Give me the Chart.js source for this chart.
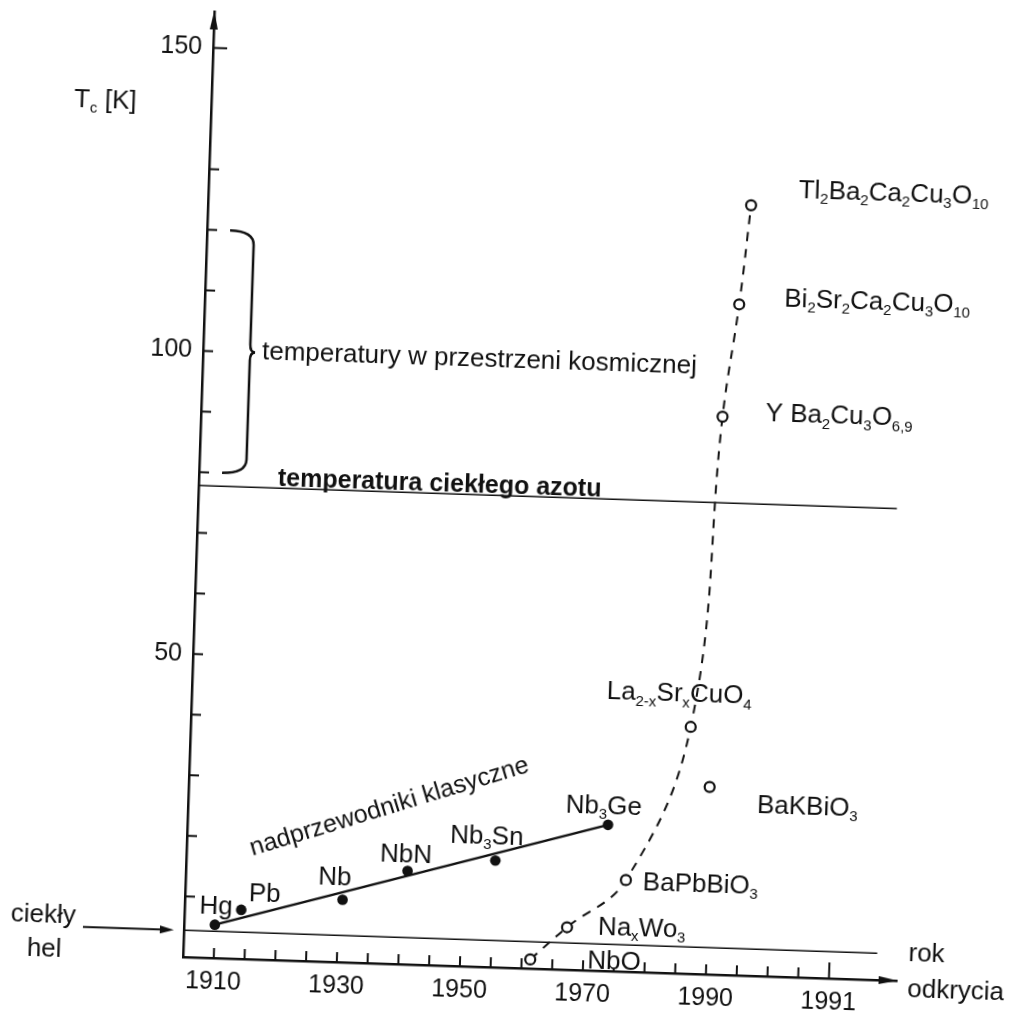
<!DOCTYPE html>
<html>
<head>
<meta charset="utf-8">
<script src="https://cdn.jsdelivr.net/npm/chart.js@4"></script>
<style>
  html, body { margin: 0; padding: 0; background: #fff; overflow: hidden; }
  #wrap { width: 1015px; height: 1012px; overflow: hidden; }
  /* the scanned original is turned a little clockwise about the axis origin */
  #myChart { display: block; transform-origin: 183px 957px; transform: rotate(1.9deg); }
</style>
</head>
<body>
<div id="wrap"><canvas id="myChart" width="1015" height="1012"></canvas></div>
<script>
// classical superconductors (filled dots)
const classicNames = ['Hg', 'Pb', 'Nb', 'NbN', 'Nb{3}Sn', 'Nb{3}Ge'];
const classicYears = [1910, 1914.2, 1930.6, 1941, 1955.2, 1973.3];
const classicTc = [5.5, 8.1, 10.3, 15.4, 17.6, 24.1];

// oxide superconductors (open circles)
const oxideNames = ['NbO', 'Na{x}Wo{3}', 'BaPbBiO{3}', 'La{2-x}Sr{x}CuO{4}', 'BaKBiO{3}',
  'Y Ba{2}Cu{3}O{6,9}', 'Bi{2}Sr{2}Ca{2}Cu{3}O{10}', 'Tl{2}Ba{2}Ca{2}Cu{3}O{10}'];
const oxideYears = [1961.4, 1967.2, 1976.5, 1986.2, 1989.6, 1989.7, 1991.8, 1993.2];
const oxideTc = [1.5, 7.0, 15.1, 40.7, 30.9, 92.0, 110.6, 127.0];
// dashed curve runs through all oxides except BaKBiO3
const curveIndex = [0, 1, 2, 3, 5, 6, 7];

// reference temperatures
const heliumT = 4.4;
const heliumYears = [1905, 2017.7];
const nitrogenT = 77.8;
const nitrogenYears = [1905, 2018.5];
const spaceRange = [80, 120];

// ticks
const xTickYears = [1910, 1915, 1920, 1925, 1930, 1935, 1940, 1945, 1950, 1955, 1960,
  1965, 1970, 1975, 1980, 1985, 1990, 1995, 2000, 2005, 2010];
const xLabelYears = [1910, 1930, 1950, 1970, 1990, 2010];
const xLabelTexts = ['1910', '1930', '1950', '1970', '1990', '1991'];
const yTickValues = [10, 20, 30, 40, 50, 60, 70, 80, 90, 100, 110, 120, 130, 150];
const yLabelValues = [50, 100, 150];

const FONT = '"Liberation Sans", Arial, sans-serif';
const INK = '#111';

// label placement relative to each point, in pixels
const classicLabelOffsets = [[-16, -20], [7, -18], [-25, -24], [-28, -18], [-46, -26], [-43, -20]];
const oxideLabelOffsets = [[57, -2], [31, -3], [17, 0], [-85, -34], [48, 15], [43, -6], [45, -9], [47, -18]];
// labels printed on a white patch (they sit over the year ticks)
const maskedLabels = ['NbO'];

const pts = (xs, ys) => xs.map((x, i) => ({ x, y: ys[i] }));

const richParts = (str) => {
  const parts = [];
  const re = /\{([^}]*)\}|([^{]+)/g;
  let m;
  while ((m = re.exec(str))) parts.push(m[1] !== undefined ? { t: m[1], sub: true } : { t: m[2], sub: false });
  return parts;
};

// draws text with {subscripts}; y is the middle of the capitals
const drawRich = (ctx, str, x, y, size, weight, align, mask) => {
  const parts = richParts(str);
  const subSize = Math.round(size * 0.58);
  const fontOf = (p) => (weight || 'normal') + ' ' + (p.sub ? subSize : size) + 'px ' + FONT;
  let w = 0;
  parts.forEach((p) => { ctx.font = fontOf(p); w += ctx.measureText(p.t).width; });
  let cx = align === 'center' ? x - w / 2 : x;
  if (mask) {
    ctx.save();
    ctx.fillStyle = '#fff';
    ctx.fillRect(cx - 1, y - size * 0.45, w + 2, mask);
    ctx.restore();
  }
  const base = y + size * 0.358;
  ctx.textAlign = 'left';
  ctx.textBaseline = 'alphabetic';
  parts.forEach((p) => {
    ctx.font = fontOf(p);
    ctx.fillText(p.t, cx, p.sub ? base + size * 0.2 : base);
    cx += ctx.measureText(p.t).width;
  });
};

const line = (ctx, x1, y1, x2, y2) => {
  ctx.beginPath(); ctx.moveTo(x1, y1); ctx.lineTo(x2, y2); ctx.stroke();
};
const tri = (ctx, a, b, c) => {
  ctx.beginPath(); ctx.moveTo(a[0], a[1]); ctx.lineTo(b[0], b[1]); ctx.lineTo(c[0], c[1]); ctx.closePath(); ctx.fill();
};

const drawings = {
  id: 'drawings',
  afterDraw(chart) {
    const { ctx, chartArea: a, scales: { x: xs, y: ys } } = chart;
    const L = a.left, R = a.right, B = a.bottom, T = a.top;
    ctx.save();
    ctx.strokeStyle = INK;
    ctx.fillStyle = INK;

    // inner tick marks
    ctx.lineWidth = 2;
    xTickYears.forEach((v, i) => {
      const px = xs.getPixelForValue(v);
      line(ctx, px, B, px, B - (i === xTickYears.length - 1 ? 16 : 10));
    });
    yTickValues.forEach((v) => {
      const py = ys.getPixelForValue(v);
      line(ctx, L, py, L + (v === 150 ? 14 : 10), py);
    });

    // axis arrows
    tri(ctx, [L, T - 1], [L - 4, T + 18], [L + 4, T + 18]);
    tri(ctx, [R + 1, B], [R - 18, B - 4], [R - 18, B + 4]);

    // liquid helium pointer
    const hy = ys.getPixelForValue(heliumT);
    ctx.lineWidth = 2;
    line(ctx, L - 101, hy, L - 20, hy);
    tri(ctx, [L - 10, hy], [L - 24, hy - 4], [L - 24, hy + 4]);
    drawRich(ctx, 'ciekły', L - 141, hy - 13, 26, 'normal', 'center');
    drawRich(ctx, 'hel', L - 139, hy + 21, 26, 'normal', 'center');

    // axis titles
    drawRich(ctx, 'T{c} [K]', L - 106, ys.getPixelForValue(141), 26, 'normal', 'center');
    drawRich(ctx, 'rok', R + 11, B - 29, 26);
    drawRich(ctx, 'odkrycia', R + 11, B + 7, 26);

    // brace for temperatures in space
    const yTop = ys.getPixelForValue(spaceRange[1]);
    const yBot = ys.getPixelForValue(spaceRange[0]);
    const yMid = (yTop + yBot) / 2;
    const xEnd = L + 23, xSp = L + 47, xTip = L + 52;
    ctx.lineWidth = 2.5;
    ctx.beginPath();
    ctx.moveTo(xEnd, yTop);
    ctx.quadraticCurveTo(xSp, yTop, xSp, yTop + 14);
    ctx.lineTo(xSp, yMid - 8);
    ctx.quadraticCurveTo(xSp, yMid, xTip, yMid);
    ctx.quadraticCurveTo(xSp, yMid, xSp, yMid + 8);
    ctx.lineTo(xSp, yBot - 14);
    ctx.quadraticCurveTo(xSp, yBot, xEnd, yBot);
    ctx.stroke();
    drawRich(ctx, 'temperatury w przestrzeni kosmicznej', xTip + 7, yMid - 3, 26);

    // liquid nitrogen caption
    drawRich(ctx, 'temperatura ciekłego azotu', L + 79, ys.getPixelForValue(nitrogenT) - 11, 25, 'bold');

    // point labels
    classicNames.forEach((n, i) => {
      const o = classicLabelOffsets[i];
      drawRich(ctx, n, xs.getPixelForValue(classicYears[i]) + o[0], ys.getPixelForValue(classicTc[i]) + o[1], 26);
    });
    oxideNames.forEach((n, i) => {
      const o = oxideLabelOffsets[i];
      const y = ys.getPixelForValue(oxideTc[i]) + o[1];
      const mask = maskedLabels.includes(n) ? B - 2 - (y - 26 * 0.45) : 0;
      drawRich(ctx, n, xs.getPixelForValue(oxideYears[i]) + o[0], y, 26, 'normal', 'left', mask);
    });

    // caption along the classical trend line
    const last = classicYears.length - 1;
    const mx = (xs.getPixelForValue(classicYears[0]) + xs.getPixelForValue(classicYears[last])) / 2;
    const my = (ys.getPixelForValue(classicTc[0]) + ys.getPixelForValue(classicTc[last])) / 2;
    ctx.save();
    ctx.translate(mx - 25, my - 69);
    ctx.rotate(-18.8 * Math.PI / 180);
    drawRich(ctx, 'nadprzewodniki klasyczne', 0, 0, 25, 'normal', 'center');
    ctx.restore();

    ctx.restore();
  },
};

const main = () => {
  const ctx = document.getElementById('myChart').getContext('2d');
  const last = classicYears.length - 1;

  const config = {
    type: 'scatter',
    data: {
      datasets: [
        {
          label: 'nadprzewodniki klasyczne',
          data: pts(classicYears, classicTc),
          pointRadius: 5.3,
          pointBackgroundColor: INK,
          pointBorderWidth: 0,
          showLine: false,
          order: 1,
        },
        {
          label: 'tlenki',
          data: pts(oxideYears, oxideTc),
          pointRadius: 5,
          pointBackgroundColor: '#fff',
          pointBorderColor: INK,
          pointBorderWidth: 2.2,
          showLine: false,
          order: 0,
        },
        {
          label: 'trend klasyczny',
          data: [
            { x: classicYears[0], y: classicTc[0] },
            { x: classicYears[last], y: classicTc[last] },
          ],
          showLine: true,
          borderColor: INK,
          borderWidth: 2.5,
          pointRadius: 0,
          order: 3,
        },
        {
          label: 'trend tlenkowy',
          data: curveIndex.map((i) => ({ x: oxideYears[i], y: oxideTc[i] })),
          showLine: true,
          tension: 0.4,
          borderColor: INK,
          borderWidth: 2,
          borderDash: [9, 8],
          pointRadius: 0,
          order: 4,
        },
        {
          label: 'ciekły hel',
          data: heliumYears.map((x) => ({ x, y: heliumT })),
          showLine: true,
          borderColor: INK,
          borderWidth: 1.6,
          pointRadius: 0,
          order: 5,
        },
        {
          label: 'ciekły azot',
          data: nitrogenYears.map((x) => ({ x, y: nitrogenT })),
          showLine: true,
          borderColor: INK,
          borderWidth: 1.6,
          pointRadius: 0,
          order: 5,
        },
      ],
    },
    options: {
      responsive: false,
      animation: false,
      events: [],
      layout: { padding: { left: 123, top: 11, right: 118, bottom: 0 } },
      plugins: {
        legend: { display: false },
        tooltip: { enabled: false },
      },
      scales: {
        x: {
          type: 'linear',
          min: 1905,
          max: 2021,
          afterBuildTicks: (s) => { s.ticks = xTickYears.map((v) => ({ value: v })); },
          afterFit: (s) => { s.height = 55; s.paddingLeft = 0; s.paddingRight = 0; },
          grid: { display: false, drawTicks: false },
          border: { display: true, color: INK, width: 2.5 },
          ticks: {
            autoSkip: false,
            maxRotation: 0,
            padding: 9,
            color: INK,
            font: { family: FONT, size: 25 },
            callback: (v) => {
              const i = xLabelYears.indexOf(v);
              return i < 0 ? '' : xLabelTexts[i];
            },
          },
        },
        y: {
          type: 'linear',
          min: 0,
          max: 156,
          afterBuildTicks: (s) => { s.ticks = yTickValues.map((v) => ({ value: v })); },
          afterFit: (s) => { s.width = 60; s.paddingTop = 0; s.paddingBottom = 0; },
          grid: { display: false, drawTicks: false },
          border: { display: true, color: INK, width: 2.5 },
          ticks: {
            autoSkip: false,
            padding: 11,
            color: INK,
            font: { family: FONT, size: 25 },
            callback: (v) => (yLabelValues.includes(v) ? String(v) : ''),
          },
        },
      },
    },
    plugins: [drawings],
  };

  new Chart(ctx, config);
};

main();
</script>
</body>
</html>
